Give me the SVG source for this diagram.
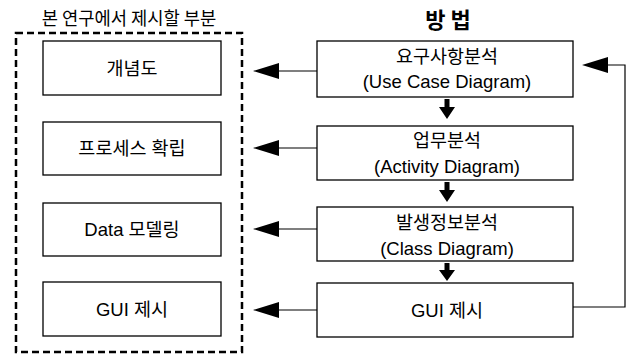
<svg xmlns="http://www.w3.org/2000/svg" width="635" height="356" viewBox="0 0 635 356">
<style>
.box{fill:#fff;stroke:#000;stroke-width:1.3}
.t{font-family:"Liberation Sans","Noto Sans CJK KR",sans-serif;font-size:18.5px;fill:#000;text-anchor:middle}
.h{font-family:"Noto Sans CJK KR",sans-serif;font-size:17.7px;fill:#000;text-anchor:middle}
.hb{font-family:"Noto Sans CJK KR",sans-serif;font-size:22px;font-weight:bold;fill:#000;text-anchor:middle}
.ln{fill:none;stroke:#000;stroke-width:1.2}
.dn{fill:#000}
</style>
<defs>
<marker id="ah" viewBox="0 0 26 16" refX="0" refY="8" markerWidth="26" markerHeight="16" markerUnits="userSpaceOnUse" orient="auto">
<path d="M26,8 L0,0 L0,16 Z" fill="#000"/>
</marker>
</defs>
<rect width="635" height="356" fill="#fff"/>
<text class="h" x="129" y="25">본 연구에서 제시할 부분</text>
<text class="hb" x="448" y="28">방 법</text>
<g id="scope">
<rect x="16" y="33" width="226" height="319" fill="none" stroke="#000" stroke-width="2.5" stroke-dasharray="7 4"/>
</g>
<g id="n-concept"><rect class="box" x="43" y="41" width="178" height="54"/><text class="t" x="132" y="75">개념도</text></g>
<g id="n-process"><rect class="box" x="43" y="122" width="178" height="53"/><text class="t" x="132" y="155">프로세스 확립</text></g>
<g id="n-data"><rect class="box" x="43" y="203" width="178" height="53"/><text class="t" x="132" y="236">Data 모델링</text></g>
<g id="n-gui-l"><rect class="box" x="43" y="282" width="178" height="54"/><text class="t" x="132" y="316">GUI 제시</text></g>
<g id="m-req"><rect class="box" x="317" y="41" width="256" height="56"/><text class="t" x="447" y="63">요구사항분석</text><text class="t" x="447" y="88">(Use Case Diagram)</text></g>
<g id="m-biz"><rect class="box" x="317" y="126" width="256" height="54"/><text class="t" x="447" y="147">업무분석</text><text class="t" x="447" y="173">(Activity Diagram)</text></g>
<g id="m-info"><rect class="box" x="317" y="207" width="256" height="54"/><text class="t" x="447" y="229">발생정보분석</text><text class="t" x="447" y="255">(Class Diagram)</text></g>
<g id="m-gui"><rect class="box" x="317" y="283" width="256" height="54"/><text class="t" x="447" y="317">GUI 제시</text></g>
<g id="connectors">
<path class="ln" d="M317,71 H279" marker-end="url(#ah)"/>
<path class="ln" d="M317,148 H279" marker-end="url(#ah)"/>
<path class="ln" d="M317,229 H279" marker-end="url(#ah)"/>
<path class="ln" d="M317,310 H279" marker-end="url(#ah)"/>
<path class="ln" d="M573,307 H625 V65 H608" marker-end="url(#ah)"/>
<path class="dn" d="M444.5,99 H449.5 V107 H455 L447,119 L439,107 H444.5 Z"/>
<path class="dn" d="M444.5,182 H449.5 V190 H455 L447,202 L439,190 H444.5 Z"/>
<path class="dn" d="M444.5,263 H449.5 V270 H455 L447,281 L439,270 H444.5 Z"/>
</g>
</svg>
